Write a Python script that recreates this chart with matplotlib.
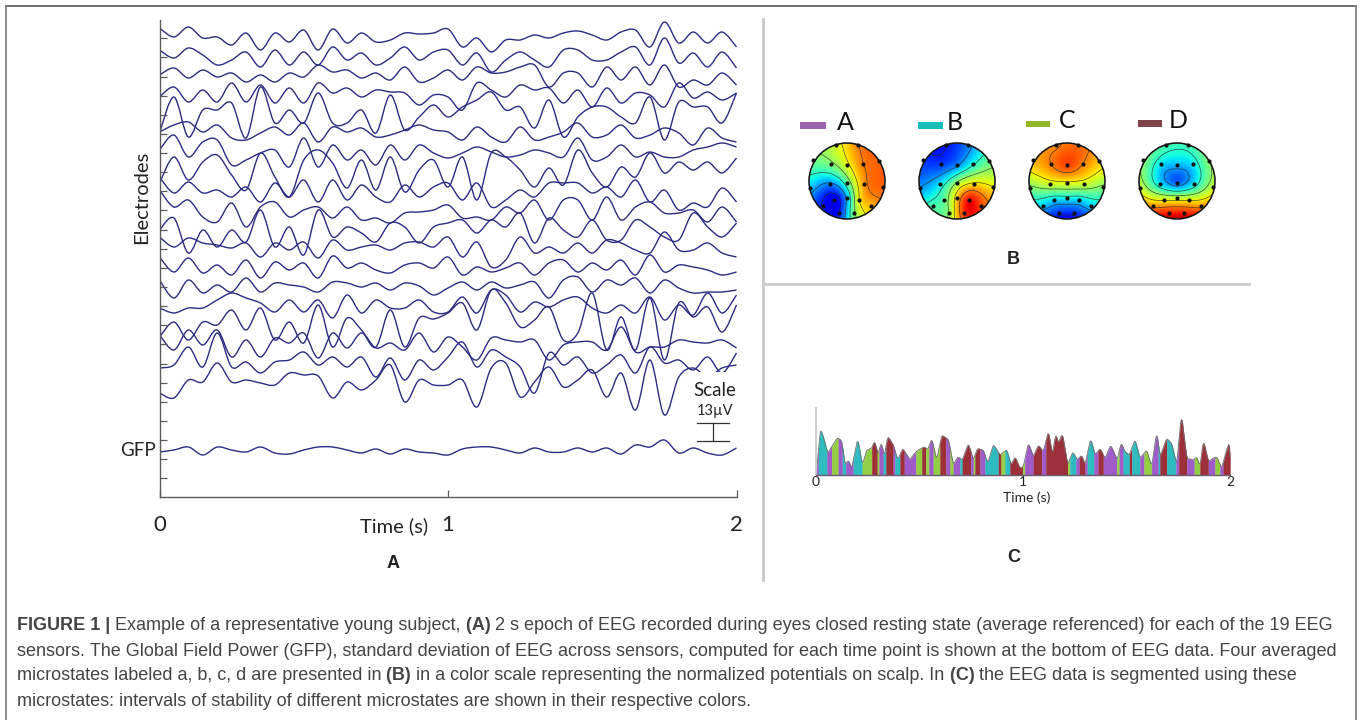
import numpy as np
import matplotlib
matplotlib.use("Agg")
import matplotlib.pyplot as plt
from matplotlib.path import Path
from matplotlib.patches import PathPatch, Circle, Rectangle

W, H = 1360, 720

# ---------- Panel A: EEG traces, read as picture rows over 0..2 s ----------
eeg_1 = [28,37,27,38,37,45,33,50,33,42,30,50,29,43,33,42,40,33,34,33,
         29,47,38,52,40,40,35,38,33,31,35,40,32,30,47,22,43,32,43,32,47]
eeg_2 = [50,58,48,55,65,60,52,67,50,65,52,65,47,60,53,65,58,47,60,52,
         50,65,53,72,60,52,60,67,50,50,60,60,52,47,65,38,63,53,67,52,68]
eeg_3 = [75,68,78,70,77,73,82,75,82,73,77,65,72,70,78,73,80,67,82,78,
         70,80,67,73,72,67,65,87,73,73,87,67,80,67,85,65,87,80,85,73,85]
eeg_4 = [97,87,102,90,102,83,102,85,103,88,103,83,93,88,97,90,92,93,105,95,
         97,110,83,90,97,85,90,88,103,90,107,88,103,93,95,107,83,98,92,100,93]
eeg_5 = [133,97,137,110,110,103,138,87,123,110,123,93,123,123,110,133,95,130,117,105,
         117,107,100,92,110,107,128,100,137,117,107,107,117,123,97,140,102,107,107,123,93]
eeg_6 = [132,125,122,132,125,138,140,133,127,135,123,142,127,132,128,137,135,130,125,130,
         132,140,127,137,142,127,140,137,132,123,137,135,125,138,135,128,133,145,128,138,142]
eeg_7 = [150,135,157,142,140,165,160,153,150,167,138,167,145,160,150,165,145,160,145,153,
         158,153,147,152,157,155,150,153,157,138,160,157,145,157,152,157,157,150,147,143,147]
eeg_8 = [183,157,180,162,155,175,190,153,177,197,160,150,163,188,160,190,157,192,170,160,
         187,157,200,153,157,170,187,168,185,150,173,187,167,177,153,173,162,170,162,173,158]
eeg_9 = [177,193,182,193,190,197,187,202,183,197,180,202,180,200,185,197,202,185,197,187,
         183,200,183,207,200,190,197,183,183,183,193,187,197,180,202,190,210,203,207,188,202]
eeg_10 = [190,207,200,217,222,203,227,207,202,217,210,207,218,207,220,218,223,213,212,210,
          205,218,217,220,207,213,200,220,200,200,220,197,220,207,202,213,213,210,222,207,222]
eeg_11 = [230,218,253,230,247,230,242,210,247,227,255,210,237,227,233,242,223,227,243,227,
          223,220,233,220,227,213,243,218,230,237,220,240,240,220,227,237,240,213,227,237,223]
eeg_12 = [237,247,238,243,245,248,243,257,243,250,242,258,240,250,247,245,250,243,242,247,
          237,257,242,267,260,237,253,247,253,243,253,240,243,250,253,232,250,250,243,253,257]
eeg_13 = [257,272,258,273,265,275,260,278,262,270,263,278,256,268,263,270,273,265,263,268,
          257,275,267,272,268,263,275,263,260,272,263,270,260,275,255,272,265,267,270,275,272]
eeg_14 = [280,298,280,293,285,292,278,292,283,285,287,292,282,283,287,283,290,283,286,295,
          288,282,290,282,288,285,282,298,280,277,292,280,285,278,293,280,288,293,292,292,290]
eeg_15 = [308,313,308,308,300,293,298,303,312,300,312,300,318,295,313,300,308,308,300,312,
          312,297,313,290,295,312,302,307,300,297,308,313,305,313,297,320,305,315,293,313,295]
eeg_16 = [337,322,340,322,325,310,330,308,340,322,343,305,347,318,330,347,310,347,318,319,
          313,303,330,290,303,327,320,307,340,333,293,350,317,350,298,360,303,317,307,332,305]
eeg_17 = [335,350,330,345,330,357,340,357,338,343,333,358,333,348,333,348,343,350,333,352,
          337,347,360,338,340,342,340,360,345,342,342,350,327,352,347,347,340,342,343,340,348]
eeg_18 = [368,365,347,367,333,367,362,373,362,360,352,365,357,367,357,377,358,380,360,370,
          357,342,367,350,357,367,393,353,365,357,373,365,355,373,347,363,360,370,357,373,353]
eeg_19 = [393,398,380,382,363,382,380,383,385,373,375,376,398,382,390,380,365,402,380,385,
          385,380,407,368,363,397,382,367,387,380,370,397,373,410,360,415,377,368,377,368,365]
gfp_trace = [452,450,447,455,447,450,452,447,453,454,450,447,447,450,453,449,454,449,452,453,
             455,449,447,447,450,453,448,452,452,448,452,448,454,445,447,440,453,448,453,455,448]
eeg_traces = [eeg_1, eeg_2, eeg_3, eeg_4, eeg_5, eeg_6, eeg_7, eeg_8, eeg_9, eeg_10,
              eeg_11, eeg_12, eeg_13, eeg_14, eeg_15, eeg_16, eeg_17, eeg_18, eeg_19, gfp_trace]
time_ticks = [0, 1, 2]
time_labels = ["0", "1", "2"]

# ---------- Panel B: microstate maps at 19 electrodes ----------
electrode_x = [-.30,.30,-.89,-.42,0,.41,.85,-.97,-.46,0,.44,.96,-.64,-.35,0,.32,.63,-.22,.19]
electrode_y = [.96,.94,.55,.46,.42,.46,.53,-.18,-.09,-.06,-.09,-.17,-.67,-.50,-.45,-.50,-.67,-.84,-.84]
map_A = [.2,.55,-.02,.02,.25,.55,.6,-.35,-.5,-.1,.5,.6,-.7,-.85,-.45,.35,.4,-.75,.05]
map_B = [-.7,-.5,-.65,-.65,-.5,-.25,-.05,-.45,-.3,.1,.35,.3,-.1,-.1,.4,.85,.65,0,.75]
map_C = [.5,.6,.45,.55,.7,.55,.4,0,.2,.25,.2,0,-.35,-.35,-.25,-.35,-.35,-.65,-.65]
map_D = [-.12,-.15,.05,-.3,-.35,-.3,.05,.2,-.3,-.6,-.3,.2,.5,.3,.2,.3,.5,.75,.75]
map_names = ["A", "B", "C", "D"]
map_values = [map_A, map_B, map_C, map_D]
state_colors = {"A": "#9f5cc8", "B": "#2fbcc0", "C": "#93cf45", "D": "#9c2f38"}
swatch_colors = ["#9b62ae", "#17bdb9", "#93b626", "#7e4348"]

# ---------- Panel C: segmented GFP, read at 621 read-units per second ----------
gfp_x = [33,38,46,55,68,80,97,110,120,130,140,158,172,185,200,208,220,228,238,248,265,278,293,315,328,
         340,358,368,380,395,410,430,445,458,472,490,505,517,535,548,565,585,605,618,630,
         645,655,670,685,700,715,730,742,752,760,772,788,803,817,830,840,857,870,885,900,917,937,
         948,960,973,990,1005,1025,1040,1055,1065,1085,1100,1115,1129,1145,1165,1175,1185,1195,
         1210,1223,1235,1250,1263,1275]
gfp_h = [0,45,140,115,65,85,112,103,30,45,20,110,30,75,80,103,60,100,55,117,90,45,80,45,65,
         75,85,75,110,45,120,107,30,55,45,95,45,80,75,35,92,60,77,30,55,
         20,25,97,55,90,70,133,60,125,95,125,30,70,45,60,30,110,60,80,50,90,45,
         97,70,60,107,50,75,25,130,55,110,95,30,183,50,45,55,25,105,
         40,50,55,20,70,105]
seg_start = [33,40,66,80,100,112,122,145,172,200,217,222,235,243,265,270,285,298,333,350,362,372,
             385,405,422,435,445,465,472,497,505,510,525,540,580,588,600,615,653,659,685,710,723,
             788,795,813,823,840,847,867,880,895,935,943,955,973,980,1005,1017,1040,1060,1065,
             1085,1113,1121,1145,1168,1185,1210,1230,1245,1255]
seg_state = list("ABACABABCDCABDABDACDCACDACABDACDABDCBD") + \
            list("CADADCBADABADACABDBACABDBADACDACAD")
seg_stop = 1275
READ_UNITS_PER_SECOND = 621.0

plt.rcParams["font.family"] = ["Lato", "DejaVu Sans"]
fig = plt.figure(figsize=(W / 100, H / 100), dpi=100, facecolor="white")


def box(x0, y0, x1, y1, **kw):
    return fig.add_axes([x0 / W, 1 - y1 / H, (x1 - x0) / W, (y1 - y0) / H], **kw)


def curve(x, y):
    """Cubic path running through every read value."""
    p = np.column_stack([x, y])
    q = np.vstack([p[0], p, p[-1]])
    verts, codes = [p[0]], [Path.MOVETO]
    for i in range(1, len(q) - 2):
        verts += [q[i] + (q[i + 1] - q[i - 1]) / 6, q[i + 1] - (q[i + 2] - q[i]) / 6, q[i + 1]]
        codes += [Path.CURVE4] * 3
    return Path(np.array(verts), codes)


# ---------- frame and dividers ----------
bg = box(0, 0, W, H)
bg.set_xlim(0, W); bg.set_ylim(H, 0); bg.axis("off")
bg.plot([6, 1356], [6, 6], color="#555555", lw=1.2)
bg.plot([6, 6], [6, 720], color="#8a8a8a", lw=1.4)
bg.plot([1356, 1356], [6, 720], color="#8a8a8a", lw=1.4)
bg.plot([763, 763], [19, 580], color="#c9c9c9", lw=2)
bg.plot([763, 1249], [284, 284], color="#c9c9c9", lw=2)

# ---------- Panel A ----------
ax = box(159.5, 20, 736.5, 497)
ax.patch.set_alpha(0)
ax.set_xlim(0, 2); ax.set_ylim(497, 20)
for tr in eeg_traces:
    t = np.linspace(0, 2, len(tr))
    ax.add_patch(PathPatch(curve(t, np.array(tr, float)), fc="none", ec="#2b2b82", lw=1.0))
for s in ["top", "right"]:
    ax.spines[s].set_visible(False)
for s in ["left", "bottom"]:
    ax.spines[s].set_color("#5a5a5a"); ax.spines[s].set_linewidth(1.0)
ax.set_yticks(38.3 + 19.13 * np.arange(24))
ax.set_yticklabels([])
ax.set_xticks(time_ticks); ax.set_xticklabels(time_labels, fontsize=16)
ax.tick_params(axis="both", direction="in", length=5, width=0.9, color="#5a5a5a")
ax.tick_params(axis="x", pad=13, labelcolor="#222222")

# ---------- Panel B ----------
cx_list = [847, 957, 1067, 1177]
R = 38
ex, ey = np.array(electrode_x), np.array(electrode_y)
g = np.linspace(-1, 1, 161)
gx, gy = np.meshgrid(g, g)


def tps(vals):
    d = np.hypot(ex[:, None] - ex[None, :], ey[:, None] - ey[None, :])
    K = np.where(d > 0, d ** 2 * np.log(d + 1e-12), 0.0)
    P = np.column_stack([np.ones_like(ex), ex, ey])
    A = np.block([[K + 0.04 * np.eye(len(ex)), P], [P.T, np.zeros((3, 3))]])
    sol = np.linalg.solve(A, np.r_[vals, 0, 0, 0])
    dg = np.hypot(gx[..., None] - ex, gy[..., None] - ey)
    Kg = np.where(dg > 0, dg ** 2 * np.log(dg + 1e-12), 0.0)
    return Kg @ sol[:len(ex)] + sol[-3] + sol[-2] * gx + sol[-1] * gy


for cx, vals, name, swc in zip(cx_list, map_values, map_names, swatch_colors):
    a = box(cx - R - 2, 181 - R - 2, cx + R + 2, 181 + R + 2)
    a.set_xlim(-(R + 2) / R, (R + 2) / R); a.set_ylim(-(R + 2) / R, (R + 2) / R)
    a.axis("off")
    z = np.ma.masked_where(gx ** 2 + gy ** 2 > 1, tps(np.array(vals)))
    a.imshow(z, extent=(-1, 1, -1, 1), origin="lower", cmap="jet", vmin=-1.0, vmax=1.0,
             interpolation="bilinear", aspect="auto")
    a.contour(gx, gy, z, levels=[-.7, -.45, -.2, .05, .3, .55], colors="#222222", linewidths=0.5,
              linestyles="solid", alpha=0.8)
    a.add_patch(Circle((0, 0), 1, fc="none", ec="#111111", lw=1.1))
    a.scatter(ex, ey, s=9, color="#111111", zorder=5, linewidths=0)

# ---------- Panel C ----------
axc = box(816, 408, 1230, 475)
axc.patch.set_alpha(0)
axc.set_xlim(0, 2); axc.set_ylim(0, 201)
tg = (np.array(gfp_x, float) - 33) / READ_UNITS_PER_SECOND
hg = np.array(gfp_h, float)
edges = (np.r_[seg_start, seg_stop] - 33.0) / READ_UNITS_PER_SECOND
fine_t = np.linspace(tg[0], tg[-1], 2501)
window = np.hanning(25); window /= window.sum()
fine_h = np.convolve(np.interp(fine_t, tg, hg), window, mode="same")
for lo, hi, st in zip(edges[:-1], edges[1:], seg_state):
    mask = (fine_t >= lo) & (fine_t <= hi)
    axc.fill_between(fine_t[mask], 0, fine_h[mask], color=state_colors[st], lw=0.3)
axc.plot(fine_t, fine_h, color="#6e6e6e", lw=0.6)
for s in ["top", "right"]:
    axc.spines[s].set_visible(False)
axc.spines["left"].set_color("#cccccc"); axc.spines["left"].set_linewidth(1.4)
axc.spines["bottom"].set_color("#6a5a72"); axc.spines["bottom"].set_linewidth(1.0)
axc.set_yticks([])
axc.set_xticks(time_ticks); axc.set_xticklabels(time_labels, fontsize=10)
axc.tick_params(axis="x", length=0, pad=1, labelcolor="#222222")

# ---------- overlay: labels ----------
top = box(0, 0, W, H, zorder=10)
top.set_xlim(0, W); top.set_ylim(H, 0); top.axis("off"); top.patch.set_alpha(0)


def T(x, y, s, **kw):
    kw.setdefault("ha", "center"); kw.setdefault("va", "center"); kw.setdefault("color", "#222222")
    return top.text(x, y, s, **kw)


top.add_patch(Rectangle((693, 372), 46, 71, fc="white", ec="none"))
top.plot([697, 729], [423, 423], color="#333333", lw=0.9)
top.plot([697, 729], [441, 441], color="#333333", lw=0.9)
top.plot([713, 713], [423, 441], color="#333333", lw=0.9)
T(715, 390, "Scale", fontsize=13.5)
T(715, 411, "13µV", fontsize=10.5)
T(142, 197, "Electrodes", fontsize=14.5, rotation=90)
T(138, 451, "GFP", fontsize=13.5)
T(394, 526, "Time (s)", fontsize=14.5)
T(1027, 498, "Time (s)", fontsize=10)
for x, y, s in [(393, 563, "A"), (1013, 260, "B"), (1014, 558, "C")]:
    T(x, y, s, fontsize=13, fontweight="bold", family="Liberation Sans")
swatches = [(800, 122, 26, 7), (918, 122, 25, 7), (1026, 121, 24, 6), (1138, 120, 24, 7)]
letters = [(845, 123), (955, 122), (1067, 120), (1178, 120)]
for (x, y, w, h), (lx, ly), name, c in zip(swatches, letters, map_names, swatch_colors):
    top.add_patch(Rectangle((x, y), w, h, fc=c, ec="none"))
    T(lx, ly, name, fontsize=18, color="#111111")

# ---------- caption ----------
caption = [
    [("FIGURE 1 | ", True), ("Example of a representative young subject, ", False), ("(A) ", True),
     ("2 s epoch of EEG recorded during eyes closed resting state (average referenced) for each of the 19 EEG", False)],
    [("sensors. The Global Field Power (GFP), standard deviation of EEG across sensors, computed for each time point is shown at the bottom of EEG data. Four averaged", False)],
    [("microstates labeled a, b, c, d are presented in ", False), ("(B) ", True),
     ("in a color scale representing the normalized potentials on scalp. In ", False), ("(C) ", True),
     ("the EEG data is segmented using these", False)],
    [("microstates: intervals of stability of different microstates are shown in their respective colors.", False)],
]
cap_y = [626, 651, 676, 701]
cap_end = [1330, 1339, 1299, None]
fig.canvas.draw()
rend = fig.canvas.get_renderer()


def width(s, bold, size):
    t = T(0, 0, s.replace(" ", "\u00a0"), fontsize=size, family="Liberation Sans",
          fontweight="bold" if bold else "normal", ha="left")
    w = t.get_window_extent(rend).width
    t.remove()
    return w


size = 11.6
for parts, y, end in zip(caption, cap_y, cap_end):
    if end is not None:
        size = 11.6 * (end - 17) / sum(width(s, b, 11.6) for s, b in parts)
    x = 17
    for s, b in parts:
        T(x, y, s.replace(" ", "\u00a0"), fontsize=size, family="Liberation Sans", ha="left",
          fontweight="bold" if b else "normal", color="#444444")
        x += width(s, b, size)

fig.savefig("out.png", dpi=100)
